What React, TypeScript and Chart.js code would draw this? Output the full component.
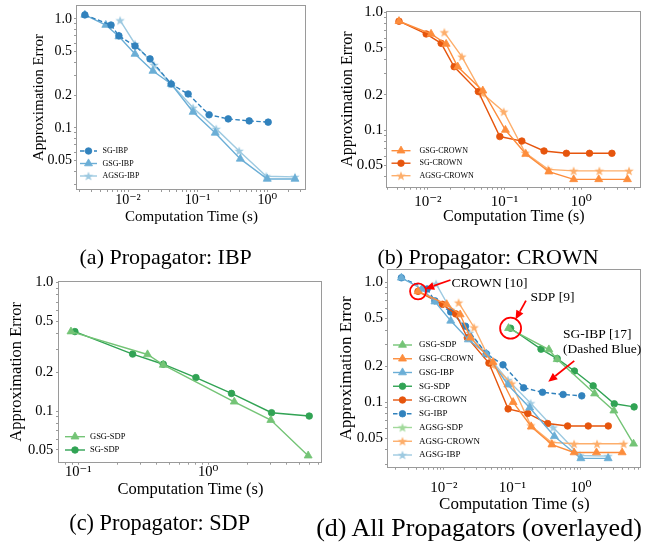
import React, { useEffect, useRef } from 'react';
import { Chart, registerables } from 'chart.js';

Chart.register(...registerables);

const FONT = "'Liberation Serif', 'DejaVu Serif', 'Times New Roman', serif";
const AXIS_GRAY = '#9a9a9a';

// ---------- Data: IBP ----------
const sgIbpX = [0.0024, 0.0057, 0.0074, 0.0126, 0.0207, 0.0417, 0.073, 0.146, 0.275, 0.55, 1.03];
const sgIbpY = [1.09, 0.88, 0.70, 0.565, 0.43, 0.253, 0.205, 0.132, 0.121, 0.116, 0.113];
const gsgIbpX = [0.0024, 0.0048, 0.0074, 0.0126, 0.0228, 0.0417, 0.086, 0.179, 0.41, 1.0, 2.5];
const gsgIbpY = [1.09, 0.88, 0.69, 0.477, 0.333, 0.253, 0.14, 0.09, 0.052, 0.034, 0.034];
const agsgIbpX = [0.0077, 0.0126, 0.0237, 0.0417, 0.086, 0.185, 0.395, 0.97, 2.5];
const agsgIbpY = [0.97, 0.59, 0.378, 0.253, 0.153, 0.098, 0.0615, 0.036, 0.0355];

// ---------- Data: CROWN ----------
const sgCrownX = [0.0042, 0.0095, 0.0149, 0.022, 0.0455, 0.0867, 0.168, 0.327, 0.64, 1.28, 2.51];
const sgCrownY = [0.84, 0.655, 0.545, 0.345, 0.212, 0.088, 0.0806, 0.0664, 0.0634, 0.0634, 0.0634];
const gsgCrownX = [0.0042, 0.011, 0.0173, 0.0245, 0.052, 0.1026, 0.189, 0.378, 0.796, 1.69, 4.0];
const gsgCrownY = [0.84, 0.655, 0.538, 0.345, 0.216, 0.1, 0.0625, 0.0443, 0.0381, 0.0381, 0.0381];
const agsgCrownX = [0.0164, 0.0277, 0.051, 0.0975, 0.186, 0.371, 0.796, 1.72, 4.2];
const agsgCrownY = [0.676, 0.42, 0.205, 0.143, 0.064, 0.0463, 0.045, 0.045, 0.045];

// ---------- Data: SDP ----------
const sgSdpX = [0.0942, 0.262, 0.451, 0.804, 1.51, 3.07, 5.98];
const sgSdpY = [0.414, 0.277, 0.231, 0.182, 0.137, 0.097, 0.0914];
const gsgSdpX = [0.0879, 0.341, 0.451, 1.585, 3.03, 5.87];
const gsgSdpY = [0.414, 0.275, 0.228, 0.118, 0.085, 0.045];
const agsgSdpX: number[] = [];
const agsgSdpY: number[] = [];

// ---------- Ticks ----------
const yMajorValues = [0.05, 0.1, 0.2, 0.5, 1.0];
const yMajorLabels = ['0.05', '0.1', '0.2', '0.5', '1.0'];
const xMajorValues = [0.01, 0.1, 1];
const xMajorLabels = ['10\u207B\u00B2', '10\u207B\u00B9', '10\u2070'];

// ---------- Annotations for panel (d), in data coordinates ----------
const annoCircles = [
  { x: 0.0042, y: 0.84, r: 8 },
  { x: 0.0942, y: 0.414, r: 10.5 },
];
const annoArrows = [
  { fromX: 0.0125, fromY: 1.045, circle: 0, toX: 0, toY: 0 },
  { fromX: 0.158, fromY: 0.703, circle: 1, toX: 0, toY: 0 },
  { fromX: 0.8, fromY: 0.221, circle: -1, toX: 0.334, toY: 0.1485 },
];
const annoTexts = [
  { x: 0.0129, y: 0.98, text: 'CROWN [10]' },
  { x: 0.184, y: 0.747, text: 'SDP [9]' },
  { x: 0.548, y: 0.364, text: 'SG-IBP [17]' },
  { x: 0.548, y: 0.273, text: '(Dashed Blue)' },
];

const BLUES = ['#3182bd', '#6baed6', '#9ecae1'];
const ORANGES = ['#e6550d', '#fd8d3c', '#fdae6b'];
const GREENS = ['#31a354', '#74c476', '#a1d99b'];

type Marker = 'circle' | 'triangle' | 'star';

function starImage(color: string, r: number) {
  const size = Math.ceil(r * 2 + 2);
  const c = document.createElement('canvas');
  c.width = size;
  c.height = size;
  const ctx = c.getContext('2d')!;
  ctx.translate(size / 2, size / 2 + 0.4);
  ctx.beginPath();
  for (let i = 0; i < 10; i++) {
    const rad = i % 2 === 0 ? r : r * 0.42;
    const a = -Math.PI / 2 + (i * Math.PI) / 5;
    const px = rad * Math.cos(a);
    const py = rad * Math.sin(a);
    if (i === 0) ctx.moveTo(px, py);
    else ctx.lineTo(px, py);
  }
  ctx.closePath();
  ctx.fillStyle = color;
  ctx.fill();
  return c;
}

function makeDataset(label: string, xs: number[], ys: number[], color: string, marker: Marker, dashed = false) {
  const radius = marker === 'circle' ? 3.3 : marker === 'triangle' ? 4.6 : 5;
  const img = marker === 'star' ? starImage(color, radius) : null;
  return {
    label,
    data: xs.map((x, i) => ({ x, y: ys[i] })),
    showLine: true,
    borderColor: color,
    backgroundColor: color,
    borderWidth: 1.4,
    borderDash: dashed ? [4.5, 2.5] : [],
    pointStyle: img || marker,
    pointRadius: radius,
    pointBorderWidth: marker === 'star' ? 0 : 0.8,
    pointBackgroundColor: color,
    pointBorderColor: color,
    marker,
    markerImg: img,
    markerColor: color,
    markerRadius: radius,
  };
}

function logTickValues(min: number, max: number) {
  const out: number[] = [];
  for (let e = -4; e <= 2; e++) {
    for (let m = 1; m <= 9; m++) {
      const v = parseFloat((m * Math.pow(10, e)).toPrecision(6));
      if (v >= min && v <= max) out.push(v);
    }
  }
  return out;
}

function labelFor(v: number, vals: number[], labels: string[]) {
  for (let i = 0; i < vals.length; i++) {
    if (Math.abs(v - vals[i]) / vals[i] < 1e-6) return labels[i];
  }
  return '';
}

function drawMarker(ctx: CanvasRenderingContext2D, d: any, x: number, y: number) {
  const r = d.markerRadius;
  ctx.save();
  ctx.fillStyle = d.markerColor;
  ctx.strokeStyle = d.markerColor;
  ctx.lineWidth = 0.8;
  ctx.setLineDash([]);
  if (d.marker === 'circle') {
    ctx.beginPath();
    ctx.arc(x, y, r, 0, Math.PI * 2);
    ctx.fill();
    ctx.stroke();
  } else if (d.marker === 'triangle') {
    ctx.beginPath();
    ctx.moveTo(x, y - r);
    ctx.lineTo(x + r * Math.sin((2 * Math.PI) / 3), y - r * Math.cos((2 * Math.PI) / 3));
    ctx.lineTo(x + r * Math.sin((4 * Math.PI) / 3), y - r * Math.cos((4 * Math.PI) / 3));
    ctx.closePath();
    ctx.fill();
    ctx.stroke();
  } else if (d.markerImg) {
    const img = d.markerImg as HTMLCanvasElement;
    ctx.drawImage(img, x - img.width / 2, y - img.height / 2);
  }
  ctx.restore();
}

const framePlugin = {
  id: 'mplFrame',
  afterDraw(chart: any) {
    const { ctx, chartArea: a } = chart;
    ctx.save();
    ctx.strokeStyle = AXIS_GRAY;
    ctx.lineWidth = 1;
    ctx.setLineDash([]);
    const l = Math.round(a.left) - 0.5;
    const t = Math.round(a.top) - 0.5;
    const r = Math.round(a.right) - 0.5;
    const b = Math.round(a.bottom) + 0.5;
    ctx.strokeRect(l, t, r - l, b - t);
    ctx.restore();
  },
};

function makeLegendPlugin(o: { left: number; handle: number; gap: number; bottom: number; rowH: number; size: number }) {
  return {
    id: 'mplLegend',
    afterDraw(chart: any) {
      const { ctx, chartArea: a } = chart;
      const ds = chart.data.datasets;
      ctx.save();
      ctx.font = `${o.size}px ${FONT}`;
      ctx.textBaseline = 'middle';
      ctx.textAlign = 'left';
      ds.forEach((d: any, i: number) => {
        const y = a.bottom - o.bottom - (ds.length - 1 - i) * o.rowH;
        const x0 = a.left + o.left;
        const x1 = x0 + o.handle;
        ctx.strokeStyle = d.borderColor;
        ctx.lineWidth = d.borderWidth;
        ctx.setLineDash(d.borderDash || []);
        ctx.beginPath();
        ctx.moveTo(x0, y);
        ctx.lineTo(x1, y);
        ctx.stroke();
        ctx.setLineDash([]);
        drawMarker(ctx, d, (x0 + x1) / 2, y);
        ctx.fillStyle = '#000';
        ctx.fillText(d.label, x1 + o.gap, y);
      });
      ctx.restore();
    },
  };
}

const annoPlugin = {
  id: 'mplAnno',
  afterDraw(chart: any) {
    const { ctx } = chart;
    const xs = chart.scales.x;
    const ys = chart.scales.y;
    const P = (x: number, y: number) => [xs.getPixelForValue(x), ys.getPixelForValue(y)];
    ctx.save();
    ctx.strokeStyle = '#ff0000';
    ctx.fillStyle = '#ff0000';
    ctx.lineWidth = 1.8;
    ctx.setLineDash([]);
    annoCircles.forEach((c) => {
      const [cx, cy] = P(c.x, c.y);
      ctx.beginPath();
      ctx.arc(cx, cy, c.r, 0, Math.PI * 2);
      ctx.stroke();
    });
    annoArrows.forEach((ar) => {
      const [fx, fy] = P(ar.fromX, ar.fromY);
      let tx: number, ty: number;
      if (ar.circle >= 0) {
        const c = annoCircles[ar.circle];
        const [cx, cy] = P(c.x, c.y);
        const dx = fx - cx;
        const dy = fy - cy;
        const len = Math.hypot(dx, dy);
        tx = cx + (dx / len) * (c.r - 0.5);
        ty = cy + (dy / len) * (c.r - 0.5);
      } else {
        [tx, ty] = P(ar.toX, ar.toY);
      }
      const ang = Math.atan2(ty - fy, tx - fx);
      const hl = 9;
      const hw = 4;
      const bx = tx - Math.cos(ang) * hl;
      const by = ty - Math.sin(ang) * hl;
      ctx.beginPath();
      ctx.moveTo(fx, fy);
      ctx.lineTo(bx, by);
      ctx.stroke();
      ctx.beginPath();
      ctx.moveTo(tx, ty);
      ctx.lineTo(bx + Math.sin(ang) * hw, by - Math.cos(ang) * hw);
      ctx.lineTo(bx - Math.sin(ang) * hw, by + Math.cos(ang) * hw);
      ctx.closePath();
      ctx.fill();
    });
    ctx.fillStyle = '#000';
    ctx.font = `13.5px ${FONT}`;
    ctx.textAlign = 'left';
    ctx.textBaseline = 'middle';
    annoTexts.forEach((t) => {
      const [x, y] = P(t.x, t.y);
      ctx.fillText(t.text, x, y);
    });
    ctx.restore();
  },
};

interface PanelSpec {
  datasets: () => any[];
  x: [number, number];
  y: [number, number];
  padding: { top: number; right: number; left: number; bottom: number };
  yAxisWidth: number;
  xAxisHeight: number;
  tickSize: number;
  titleSize: number;
  yTickPad: number;
  xLabelOffset: number; // distance from axis to centre of x tick labels
  yTitlePad: number;
  xTitlePad: number;
  legend: { left: number; handle: number; gap: number; bottom: number; rowH: number; size: number };
  annotate?: boolean;
}

function buildConfig(s: PanelSpec): any {
  const plugins: any[] = [framePlugin, makeLegendPlugin(s.legend)];
  if (s.annotate) plugins.push(annoPlugin);
  const TICK_LEN = 3;
  const xTickFont = { family: FONT, size: s.tickSize, lineHeight: (2 * (s.xLabelOffset - TICK_LEN)) / s.tickSize };
  const yTickFont = { family: FONT, size: s.tickSize, lineHeight: 0.5 };
  const titleFont = { family: FONT, size: s.titleSize, lineHeight: 1 };
  return {
    type: 'scatter',
    data: { datasets: s.datasets() },
    options: {
      responsive: false,
      animation: false,
      events: [],
      layout: { padding: s.padding },
      plugins: { legend: { display: false }, tooltip: { enabled: false } },
      scales: {
        x: {
          type: 'logarithmic',
          position: 'bottom',
          min: s.x[0],
          max: s.x[1],
          afterBuildTicks: (sc: any) => {
            sc.ticks = logTickValues(s.x[0], s.x[1]).map((v) => ({ value: v }));
          },
          afterFit: (sc: any) => {
            sc.height = s.xAxisHeight;
          },
          ticks: {
            autoSkip: false,
            maxRotation: 0,
            minRotation: 0,
            padding: 0,
            color: '#000',
            font: xTickFont,
            callback: (v: any) => labelFor(Number(v), xMajorValues, xMajorLabels),
          },
          grid: { display: true, drawOnChartArea: false, drawTicks: true, tickLength: TICK_LEN, tickColor: AXIS_GRAY, tickWidth: 1 },
          border: { display: false },
          title: {
            display: true,
            text: 'Computation Time (s)',
            color: '#000',
            font: titleFont,
            padding: { top: 0, bottom: s.xTitlePad },
          },
        },
        y: {
          type: 'logarithmic',
          position: 'left',
          min: s.y[0],
          max: s.y[1],
          afterBuildTicks: (sc: any) => {
            sc.ticks = logTickValues(s.y[0], s.y[1]).map((v) => ({ value: v }));
          },
          afterFit: (sc: any) => {
            sc.width = s.yAxisWidth;
          },
          ticks: {
            autoSkip: false,
            padding: s.yTickPad,
            color: '#000',
            font: yTickFont,
            callback: (v: any) => labelFor(Number(v), yMajorValues, yMajorLabels),
          },
          grid: { display: true, drawOnChartArea: false, drawTicks: true, tickLength: TICK_LEN, tickColor: AXIS_GRAY, tickWidth: 1 },
          border: { display: false },
          title: {
            display: true,
            text: 'Approximation Error',
            color: '#000',
            font: titleFont,
            padding: { top: s.yTitlePad, bottom: 0 },
          },
        },
      },
    },
    plugins,
  };
}

const specA: PanelSpec = {
  datasets: () => [
    makeDataset('SG-IBP', sgIbpX, sgIbpY, BLUES[0], 'circle', true),
    makeDataset('GSG-IBP', gsgIbpX, gsgIbpY, BLUES[1], 'triangle'),
    makeDataset('AGSG-IBP', agsgIbpX, agsgIbpY, BLUES[2], 'star'),
  ],
  x: [0.00185, 3.6],
  y: [0.0275, 1.316],
  padding: { top: 6, right: 14, left: 0, bottom: 0 },
  yAxisWidth: 77,
  xAxisHeight: 41,
  tickSize: 14,
  titleSize: 15,
  yTickPad: 2,
  xLabelOffset: 11,
  yTitlePad: 31.5,
  xTitlePad: 5.5,
  legend: { left: 3, handle: 17, gap: 5.5, bottom: 13, rowH: 12.5, size: 8 },
};

const specB: PanelSpec = {
  datasets: () => [
    makeDataset('GSG-CROWN', gsgCrownX, gsgCrownY, ORANGES[1], 'triangle'),
    makeDataset('SG-CROWN', sgCrownX, sgCrownY, ORANGES[0], 'circle'),
    makeDataset('AGSG-CROWN', agsgCrownX, agsgCrownY, ORANGES[2], 'star'),
  ],
  x: [0.00293, 5.94],
  y: [0.033, 1.016],
  padding: { top: 11.5, right: 2.7, left: 0, bottom: 0 },
  yAxisWidth: 67,
  xAxisHeight: 43.3,
  tickSize: 15,
  titleSize: 16,
  yTickPad: 1,
  xLabelOffset: 15,
  yTitlePad: 20,
  xTitlePad: 5.3,
  legend: { left: 4.5, handle: 19, gap: 9, bottom: 11, rowH: 12.5, size: 8 },
};

const specC: PanelSpec = {
  datasets: () => [
    makeDataset('GSG-SDP', gsgSdpX, gsgSdpY, GREENS[1], 'triangle'),
    makeDataset('SG-SDP', sgSdpX, sgSdpY, GREENS[0], 'circle'),
  ],
  x: [0.0711, 7.5],
  y: [0.0404, 1.005],
  padding: { top: 20, right: 8, left: 0, bottom: 0 },
  yAxisWidth: 59,
  xAxisHeight: 50.3,
  tickSize: 14.5,
  titleSize: 16.5,
  yTickPad: 2.7,
  xLabelOffset: 10,
  yTitlePad: 8.75,
  xTitlePad: 13.75,
  legend: { left: 6, handle: 20, gap: 5, bottom: 11.7, rowH: 13.3, size: 8.5 },
};

const specD: PanelSpec = {
  datasets: () => [
    makeDataset('GSG-SDP', gsgSdpX, gsgSdpY, GREENS[1], 'triangle'),
    makeDataset('GSG-CROWN', gsgCrownX, gsgCrownY, ORANGES[1], 'triangle'),
    makeDataset('GSG-IBP', gsgIbpX, gsgIbpY, BLUES[1], 'triangle'),
    makeDataset('SG-SDP', sgSdpX, sgSdpY, GREENS[0], 'circle'),
    makeDataset('SG-CROWN', sgCrownX, sgCrownY, ORANGES[0], 'circle'),
    makeDataset('SG-IBP', sgIbpX, sgIbpY, BLUES[0], 'circle', true),
    makeDataset('AGSG-SDP', agsgSdpX, agsgSdpY, GREENS[2], 'star'),
    makeDataset('AGSG-CROWN', agsgCrownX, agsgCrownY, ORANGES[2], 'star'),
    makeDataset('AGSG-IBP', agsgIbpX, agsgIbpY, BLUES[2], 'star'),
  ],
  x: [0.00153, 7.44],
  y: [0.029, 1.266],
  padding: { top: 8, right: 0, left: 0, bottom: 0 },
  yAxisWidth: 58,
  xAxisHeight: 55.3,
  tickSize: 15,
  titleSize: 17,
  yTickPad: 2,
  xLabelOffset: 21.3,
  yTitlePad: 8.5,
  xTitlePad: 8.5,
  legend: { left: 5, handle: 19, gap: 7, bottom: 11.7, rowH: 13.75, size: 9 },
  annotate: true,
};

function Panel(props: { spec: PanelSpec; left: number; top: number; width: number; height: number }) {
  const ref = useRef<HTMLCanvasElement>(null);
  useEffect(() => {
    const chart = new Chart(ref.current as HTMLCanvasElement, buildConfig(props.spec));
    return () => chart.destroy();
  }, []);
  return (
    <canvas
      ref={ref}
      width={props.width}
      height={props.height}
      style={{ position: 'absolute', left: props.left, top: props.top, width: props.width, height: props.height }}
    />
  );
}

function Caption(props: { text: string; cx: number; cy: number; size: number }) {
  return (
    <div
      style={{
        position: 'absolute',
        left: props.cx - 250,
        top: props.cy - props.size / 2,
        width: 500,
        height: props.size,
        lineHeight: `${props.size}px`,
        textAlign: 'center',
        fontFamily: FONT,
        fontSize: props.size,
        color: '#000',
        whiteSpace: 'nowrap',
      }}
    >
      {props.text}
    </div>
  );
}

export default function App() {
  return (
    <div style={{ position: 'absolute', left: 0, top: 0, width: 646, height: 552, background: '#fff', overflow: 'hidden' }}>
      <Panel spec={specA} left={0} top={0} width={320} height={230} />
      <Panel spec={specB} left={320} top={0} width={326} height={230} />
      <Panel spec={specC} left={0} top={262} width={330} height={250} />
      <Panel spec={specD} left={330} top={262} width={316} height={260} />
      <Caption text="(a) Propagator: IBP" cx={165.7} cy={257} size={22} />
      <Caption text="(b) Propagator: CROWN" cx={488} cy={257} size={22} />
      <Caption text="(c) Propagator: SDP" cx={159.7} cy={522.7} size={22.3} />
      <Caption text="(d) All Propagators (overlayed)" cx={479} cy={528} size={26} />
    </div>
  );
}
